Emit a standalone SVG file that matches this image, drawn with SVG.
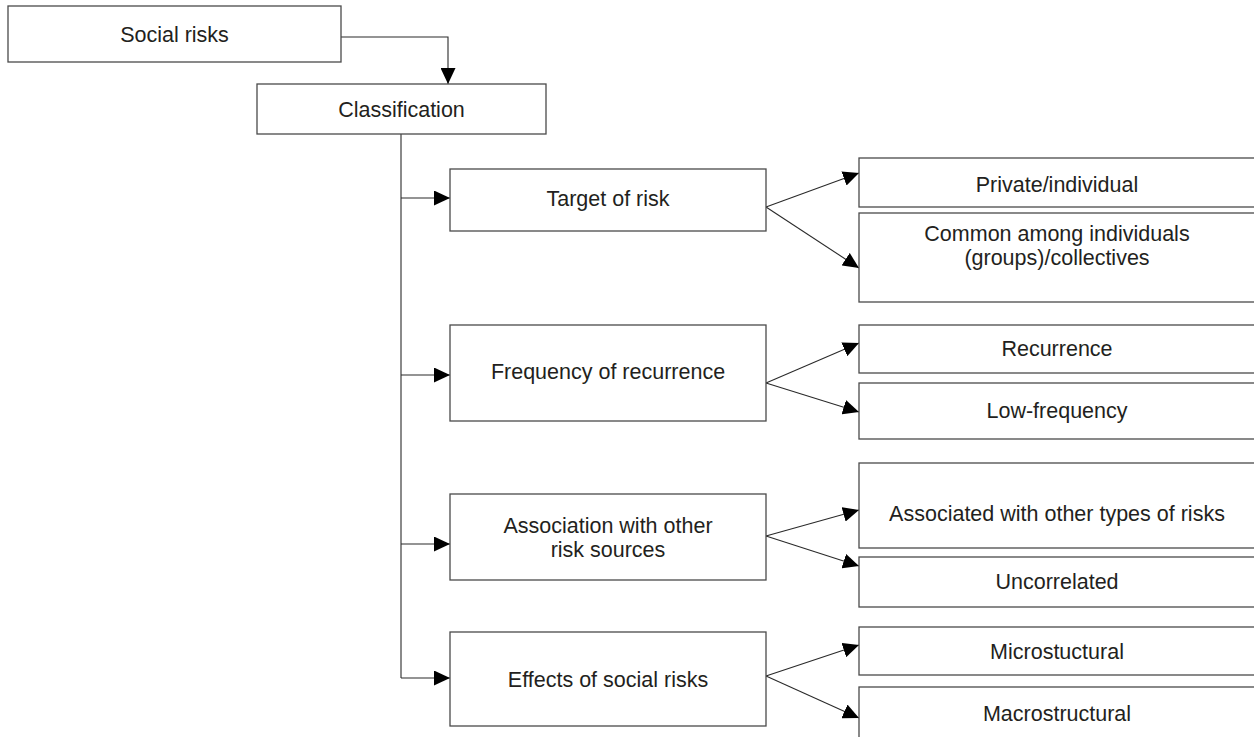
<svg xmlns="http://www.w3.org/2000/svg" width="1254" height="737" viewBox="0 0 1254 737">
<defs>
<marker id="ah" markerUnits="userSpaceOnUse" markerWidth="16" markerHeight="15" refX="16" refY="7.5" orient="auto" viewBox="0 0 16 15">
<path d="M0,0 L16,7.5 L0,15 z" fill="#000"/>
</marker>
<style>
.box{fill:#fff;stroke:#4a4a4a;stroke-width:1.3}
.t{font-family:"Liberation Sans",Arial,sans-serif;font-size:21.5px;fill:#231f20;text-anchor:middle}
.c{fill:none;stroke:#2a2a2a;stroke-width:1.1}
.a{marker-end:url(#ah)}
</style>
</defs>
<rect width="1254" height="737" fill="#fff"/>
<g id="connectors">
<path class="c a" d="M341,37 H448 V84"/>
<path class="c" d="M401,134 V678"/>
<path class="c a" d="M401,198 H450"/>
<path class="c a" d="M401,375 H450"/>
<path class="c a" d="M401,544 H450"/>
<path class="c a" d="M401,678 H450"/>
<path class="c a" d="M766,207 L859,173"/>
<path class="c a" d="M766,207 L859,268"/>
<path class="c a" d="M766,383 L859,343"/>
<path class="c a" d="M766,383 L859,412"/>
<path class="c a" d="M766,536 L859,510"/>
<path class="c a" d="M766,536 L859,566"/>
<path class="c a" d="M766,676 L859,645"/>
<path class="c a" d="M766,676 L859,718"/>
</g>
<g id="social-risks"><rect class="box" x="8" y="6" width="333" height="56"/><text class="t" x="174.5" y="42">Social risks</text></g>
<g id="classification"><rect class="box" x="257" y="84" width="289" height="50"/><text class="t" x="401.5" y="117">Classification</text></g>
<g id="target"><rect class="box" x="450" y="169" width="316" height="62"/><text class="t" x="608" y="206">Target of risk</text></g>
<g id="frequency"><rect class="box" x="450" y="325" width="316" height="96"/><text class="t" x="608" y="379">Frequency of recurrence</text></g>
<g id="association"><rect class="box" x="450" y="494" width="316" height="86"/><text class="t" x="608" y="533">Association with other</text><text class="t" x="608" y="557">risk sources</text></g>
<g id="effects"><rect class="box" x="450" y="632" width="316" height="94"/><text class="t" x="608" y="687">Effects of social risks</text></g>
<g id="private"><rect class="box" x="859" y="158" width="396" height="49"/><text class="t" x="1057" y="192">Private/individual</text></g>
<g id="common"><rect class="box" x="859" y="213" width="396" height="89"/><text class="t" x="1057" y="241">Common among individuals</text><text class="t" x="1057" y="265">(groups)/collectives</text></g>
<g id="recurrence"><rect class="box" x="859" y="325" width="396" height="48"/><text class="t" x="1057" y="356">Recurrence</text></g>
<g id="low-frequency"><rect class="box" x="859" y="383" width="396" height="56"/><text class="t" x="1057" y="418">Low-frequency</text></g>
<g id="associated"><rect class="box" x="859" y="463" width="396" height="85"/><text class="t" x="1057" y="521">Associated with other types of risks</text></g>
<g id="uncorrelated"><rect class="box" x="859" y="557" width="396" height="50"/><text class="t" x="1057" y="589">Uncorrelated</text></g>
<g id="microstuctural"><rect class="box" x="859" y="627" width="396" height="48"/><text class="t" x="1057" y="659">Microstuctural</text></g>
<g id="macrostructural"><rect class="box" x="859" y="687" width="396" height="60"/><text class="t" x="1057" y="721">Macrostructural</text></g>
</svg>
